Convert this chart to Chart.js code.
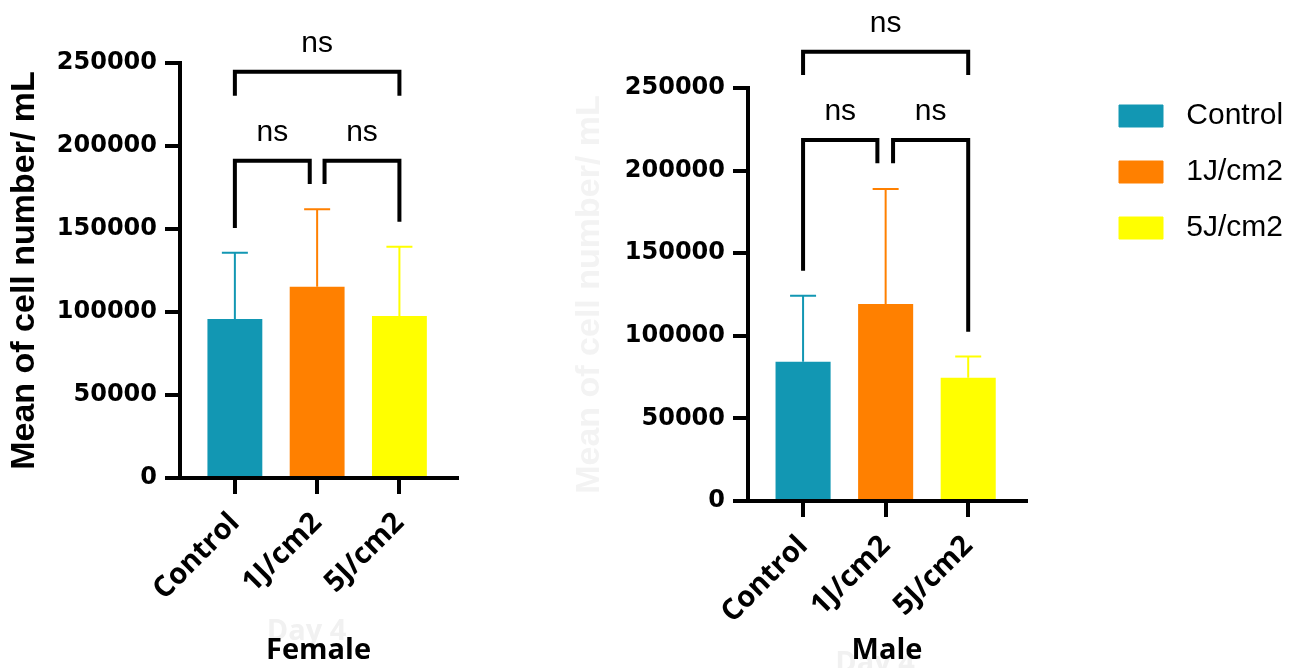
<!DOCTYPE html>
<html>
<head>
<meta charset="utf-8">
<script src="https://cdn.jsdelivr.net/npm/chart.js@4.4.1/dist/chart.umd.min.js"></script>
<style>
  html, body { margin: 0; padding: 0; background: #fff; }
  #wrap { position: relative; width: 1308px; height: 668px; overflow: hidden; }
  canvas { position: absolute; top: 0; }
</style>
</head>
<body>
<div id="wrap">
  <canvas id="female" width="540" height="668" style="left:0"></canvas>
  <canvas id="male" width="525" height="668" style="left:565px"></canvas>
  <canvas id="legend" width="218" height="668" style="left:1090px"></canvas>
</div>
<script>
// ── Data ────────────────────────────────────────────────────────────────
var categories = ['Control', '1J/cm2', '5J/cm2'];
var barColors  = ['#1297b3', '#ff8000', '#ffff00'];
var yTicks     = [0, 50000, 100000, 150000, 200000, 250000];

var femaleMean = [95800, 115200, 97600];
var femaleSD   = [39900, 46700, 41700];
var maleMean   = [84300, 119200, 74600];
var maleSD     = [40000, 69700, 12800];

// comparison brackets: [from, to, bracket level, left leg end, right leg end, label]
var femaleBrackets = [
	[0, 2, 244800, 230300, 230300, 'ns'],
	[0, 0.91, 191100, 150600, 177100, 'ns'],
	[1.09, 2, 191100, 177100, 154400, 'ns']
];
var maleBrackets = [
	[0, 2, 272000, 257900, 257900, 'ns'],
	[0, 0.9, 218500, 139400, 204400, 'ns'],
	[1.09, 2, 218500, 204400, 102500, 'ns']
];

// ── Overlay: error bars, brackets, faint caption ───────────────────────
function makeOverlay(means, sd, brackets, dayY) {
	return {
		id: 'overlay',
		beforeDraw: function (chart) {
			var ctx = chart.ctx, a = chart.chartArea;
			ctx.save();
			ctx.fillStyle = '#f1f1f1';
			ctx.font = 'bold 29px "Open Sans"';
			ctx.textAlign = 'center';
			ctx.textBaseline = 'middle';
			ctx.fillText('Day 4', (a.left + a.right) / 2 - 12, dayY);
			ctx.restore();
		},
		afterDatasetsDraw: function (chart) {
			var ctx = chart.ctx, x = chart.scales.x, y = chart.scales.y;
			ctx.save();
			ctx.lineWidth = 2;
			means.forEach(function (m, i) {
				var px   = x.getPixelForValue(i);
				var base = y.getPixelForValue(m);
				var top  = y.getPixelForValue(m + sd[i]);
				ctx.strokeStyle = barColors[i];
				ctx.beginPath();
				ctx.moveTo(px, base); ctx.lineTo(px, top);
				ctx.moveTo(px - 13, top); ctx.lineTo(px + 13, top);
				ctx.stroke();
			});

			ctx.strokeStyle = '#000';
			ctx.fillStyle = '#000';
			ctx.lineWidth = 4;
			ctx.lineJoin = 'miter';
			ctx.font = '30px "Liberation Sans"';
			ctx.textAlign = 'center';
			ctx.textBaseline = 'middle';
			brackets.forEach(function (b) {
				var x0 = x.getPixelForValue(b[0]), x1 = x.getPixelForValue(b[1]);
				var yb = y.getPixelForValue(b[2]);
				ctx.beginPath();
				ctx.moveTo(x0, y.getPixelForValue(b[3]));
				ctx.lineTo(x0, yb);
				ctx.lineTo(x1, yb);
				ctx.lineTo(x1, y.getPixelForValue(b[4]));
				ctx.stroke();
				ctx.fillText(b[5], (x0 + x1) / 2, yb - 28);
			});
			ctx.restore();
		}
	};
}

function panel(id, cfg) {
	return new Chart(document.getElementById(id), {
		type: 'bar',
		data: {
			datasets: [{
				data: cfg.means.map(function (v, i) { return { x: i, y: v }; }),
				backgroundColor: barColors,
				categoryPercentage: 1,
				barPercentage: 0.667
			}]
		},
		plugins: [makeOverlay(cfg.means, cfg.sd, cfg.brackets, cfg.dayY)],
		options: {
			responsive: false,
			animation: false,
			layout: { padding: { top: cfg.padTop, right: cfg.padRight, left: 0, bottom: 0 } },
			plugins: { legend: { display: false }, tooltip: { enabled: false } },
			scales: {
				x: {
					type: 'linear', min: -0.667, max: 2.7, offset: false,
					afterFit: function (s) { s.height = cfg.xHeight; },
					border: { display: true, color: '#000', width: 4 },
					grid: { offset: false, drawOnChartArea: false, drawTicks: true, tickLength: 16, lineWidth: 4, color: '#000' },
					ticks: {
						stepSize: 1, includeBounds: false, autoSkip: false,
						minRotation: 45, maxRotation: 45, padding: 12, color: '#000',
						font: { family: 'Open Sans', weight: 'bold', size: 29 },
						callback: function (v) { return categories[v]; }
					},
					title: {
						display: true, text: cfg.title, color: '#000', padding: 0,
						font: { family: 'Open Sans', weight: 'bold', size: 29 }
					}
				},
				y: {
					min: 0, max: 250000,
					afterFit: function (s) { s.width = cfg.yWidth; },
					afterBuildTicks: function (s) { s.ticks = yTicks.map(function (v) { return { value: v }; }); },
					border: { display: true, color: '#000', width: 4 },
					grid: { drawOnChartArea: false, drawTicks: true, tickLength: 15, lineWidth: 4, color: '#000' },
					ticks: {
						padding: 8, color: '#000',
						font: { family: 'DejaVu Sans', weight: 'bold', size: 24 },
						callback: function (v) { return String(v); }
					},
					title: {
						display: true, text: 'Mean of cell number/ mL', color: cfg.yTitleColor,
						padding: { top: 4, bottom: 0 },
						font: { family: 'Liberation Sans', weight: 'bold', size: 34 }
					}
				}
			}
		}
	});
}

panel('female', {
	means: femaleMean, sd: femaleSD, brackets: femaleBrackets, title: 'Female',
	yTitleColor: '#000', padTop: 63, padRight: 83, yWidth: 180, xHeight: 190, dayY: 632
});

panel('male', {
	means: maleMean, sd: maleSD, brackets: maleBrackets, title: 'Male',
	yTitleColor: '#f3f3f3', padTop: 88, padRight: 64, yWidth: 183, xHeight: 167, dayY: 664
});

// ── Legend ─────────────────────────────────────────────────────────────
new Chart(document.getElementById('legend'), {
	type: 'bar',
	data: { labels: categories, datasets: [{ data: [], backgroundColor: barColors }] },
	options: {
		responsive: false,
		animation: false,
		layout: { padding: { top: 75, left: 3 } },
		scales: { x: { display: false }, y: { display: false } },
		plugins: {
			tooltip: { enabled: false },
			legend: {
				position: 'top', align: 'start', onClick: null,
				labels: {
					boxWidth: 44, boxHeight: 22, padding: 26, color: '#000',
					font: { family: 'Liberation Sans', size: 30 },
					generateLabels: function () {
						return categories.map(function (c, i) {
							return { text: ' ' + c, fillStyle: barColors[i], strokeStyle: barColors[i], lineWidth: 1, hidden: false, index: i };
						});
					}
				}
			}
		}
	}
});
</script>
</body>
</html>
